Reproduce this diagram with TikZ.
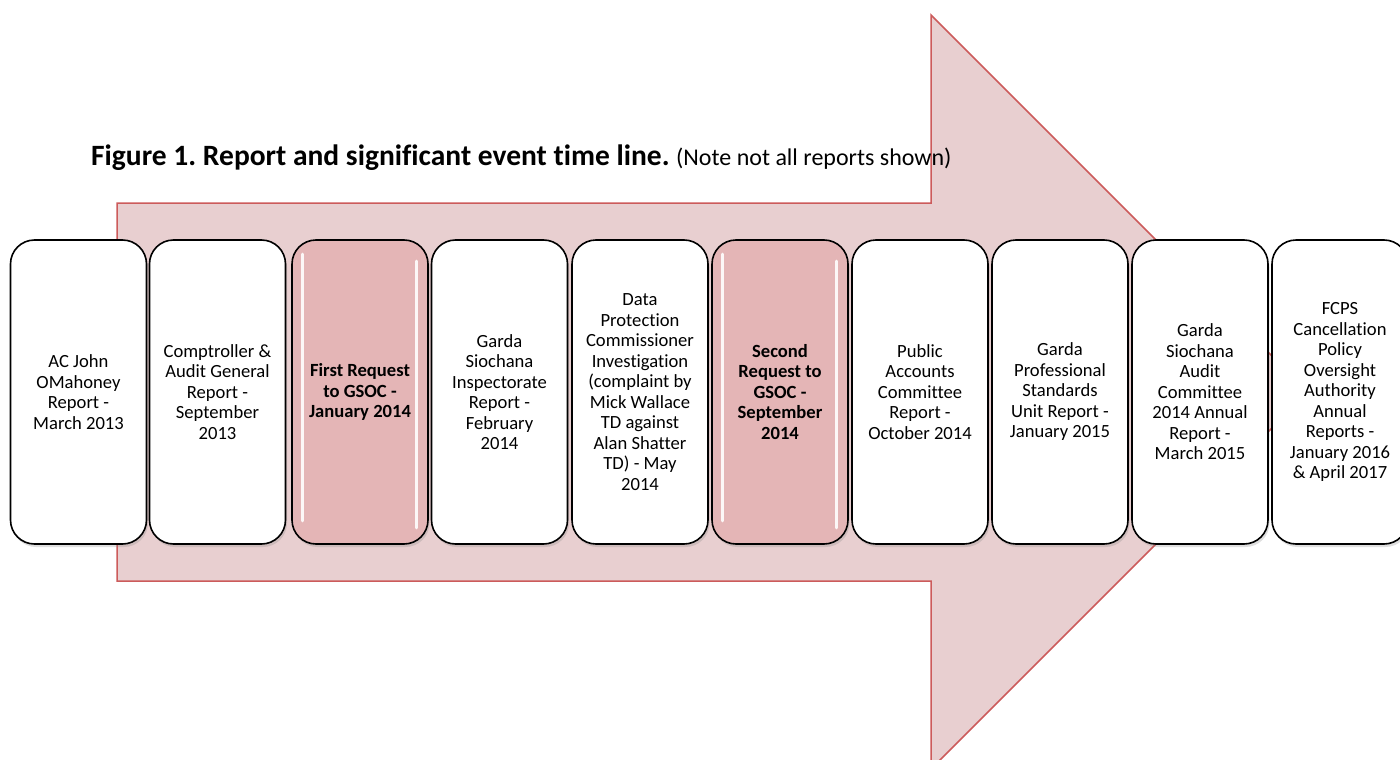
\documentclass[tikz,border=0pt]{standalone}
\usepackage{fontspec}
\setmainfont[Ligatures={NoCommon}]{Carlito}
\usetikzlibrary{shadows}
\definecolor{arrowfill}{HTML}{E8CFD0}
\definecolor{arrowline}{HTML}{CC5B5B}
\definecolor{keyfill}{HTML}{E4B5B6}
\frenchspacing
\begin{document}
\begin{tikzpicture}[x=1pt,y=-1pt,
    event/.style={draw=black,line width=1.6pt,fill=white,rounded corners=24pt,
      minimum width=136pt,minimum height=304pt,inner sep=0pt,align=center,
      font=\fontsize{18.6}{20.5}\selectfont,
      drop shadow={opacity=0.25,shadow xshift=1.5pt,shadow yshift=-3pt}},
    keyevent/.style={event,fill=keyfill,font=\fontsize{18.6}{20.5}\selectfont\bfseries},
    gloss/.style={white,line width=3.2pt,line cap=round,opacity=0.9}]
  \useasboundingbox (0,0) rectangle (1400,760);

  % big arrow behind the time line
  \draw[fill=arrowfill,draw=arrowline,line width=1.5pt]
    (117,203) -- (931,203) -- (931,15) -- (1308,392) --
    (931,769) -- (931,581) -- (117,581) -- cycle;

  \node[anchor=base west,inner sep=0pt] (title) at (91,165)
    {\fontsize{29.5}{34}\selectfont\bfseries Figure 1. Report and significant event time line.
     \fontsize{24}{28}\selectfont\mdseries (Note not all reports shown)};

  \node[event] (ac) at (78.5,392) {AC John\\OMahoney\\Report -\\March 2013};
  \node[event] (cag) at (217.5,392) {Comptroller \&\\Audit General\\Report -\\September\\2013};
  \node[keyevent] (first) at (360,392) {First Request\\to GSOC -\\January 2014};
  \node[event] (gsi) at (499.5,392) {Garda\\Siochana\\Inspectorate\\Report -\\February\\2014};
  \node[event] (dpc) at (640,392) {Data\\Protection\\Commissioner\\Investigation\\(complaint by\\Mick Wallace\\TD against\\Alan Shatter\\TD) - May\\2014};
  \node[keyevent] (second) at (780,392) {Second\\Request to\\GSOC -\\September\\2014};
  \node[event] (pac) at (920,392) {Public\\Accounts\\Committee\\Report -\\October 2014};
  \node[event] (gpsu) at (1060,392) {Garda\\Professional\\Standards\\Unit Report -\\January 2015};
  \node[event] (gsac) at (1200,392) {Garda\\Siochana\\Audit\\Committee\\2014 Annual\\Report -\\March 2015};
  \node[event] (fcps) at (1340,392) {FCPS\\Cancellation\\Policy\\Oversight\\Authority\\Annual\\Reports -\\January 2016\\\& April 2017};

  % gloss on the two requests
  \draw[gloss] ([xshift=11pt,yshift=-15pt]first.north west) -- ([xshift=11pt,yshift=24pt]first.south west);
  \draw[gloss] ([xshift=-12pt,yshift=-22pt]first.north east) -- ([xshift=-12pt,yshift=17pt]first.south east);
  \draw[gloss] ([xshift=11pt,yshift=-15pt]second.north west) -- ([xshift=11pt,yshift=24pt]second.south west);
  \draw[gloss] ([xshift=-12pt,yshift=-22pt]second.north east) -- ([xshift=-12pt,yshift=17pt]second.south east);
\end{tikzpicture}
\end{document}
